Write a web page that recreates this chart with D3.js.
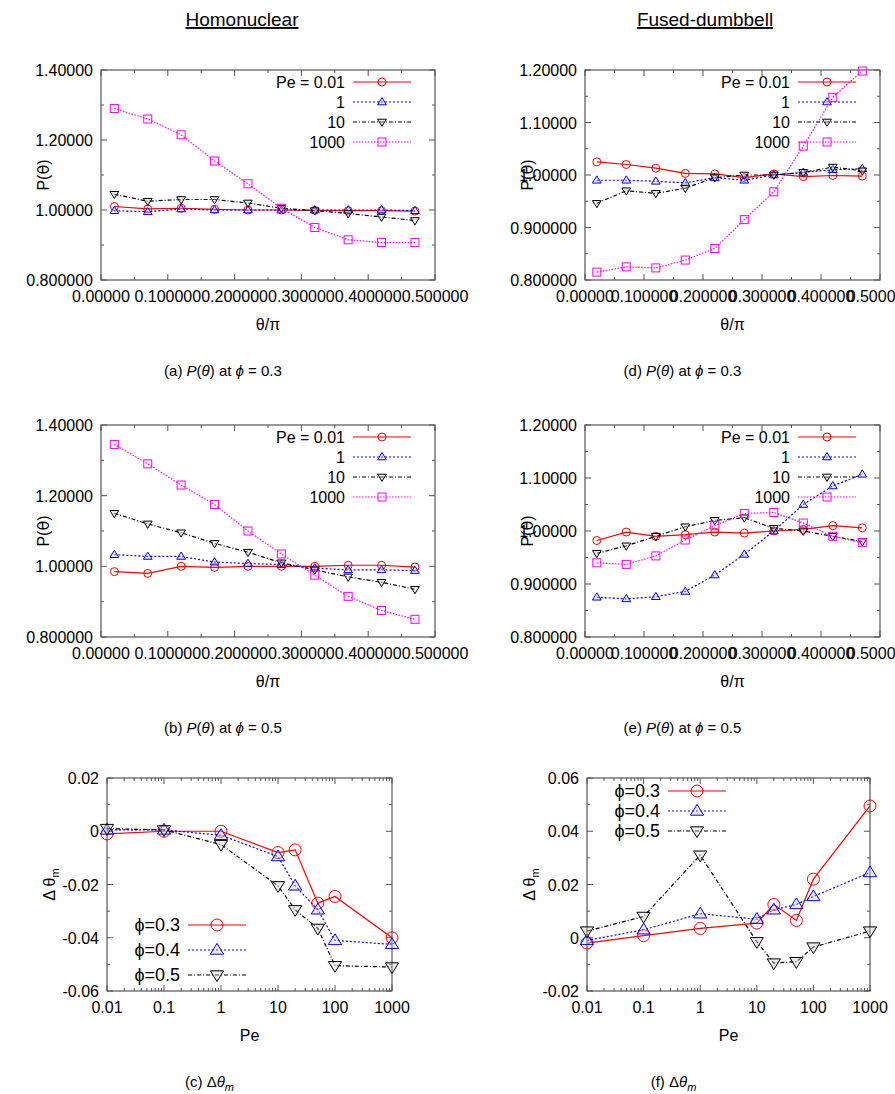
<!DOCTYPE html>
<html><head><meta charset="utf-8">
<script src="https://d3js.org/d3.v7.min.js"></script>
<style>body{margin:0;background:#fff}svg text{font-family:"Liberation Sans",Arial,sans-serif}</style>
</head><body><svg id="c" width="895" height="1094"></svg>
<script>
const theta=[0.02,0.07,0.12,0.17,0.22,0.27,0.32,0.37,0.42,0.47];
const peLabels=["Pe = 0.01","1","10","1000"];
const a_001=[1.01,1.003,1.005,1.002,1.0,1.0,0.999,0.998,0.998,0.997];
const a_1=[0.998,0.995,1.003,1.0,1.0,1.0,1.0,1.0,1.0,0.998];
const a_10=[1.045,1.025,1.03,1.03,1.02,1.005,0.998,0.99,0.98,0.97];
const a_1000=[1.29,1.26,1.215,1.14,1.075,1.005,0.95,0.915,0.907,0.907];
const b_001=[0.985,0.98,1.0,0.997,1.0,1.0,1.0,1.003,1.003,0.998];
const b_1=[1.033,1.028,1.028,1.012,1.008,1.005,0.995,0.99,0.99,0.988];
const b_10=[1.15,1.12,1.095,1.065,1.04,1.01,0.99,0.97,0.955,0.935];
const b_1000=[1.345,1.29,1.23,1.175,1.1,1.035,0.975,0.915,0.875,0.85];
const d_001=[1.025,1.02,1.013,1.003,1.002,0.995,1.002,0.997,0.999,0.998];
const d_1=[0.99,0.99,0.988,0.985,0.995,0.99,1.0,1.005,1.01,1.012];
const d_10=[0.946,0.97,0.965,0.975,0.995,1.0,1.0,1.005,1.015,1.008];
const d_1000=[0.815,0.825,0.823,0.838,0.86,0.915,0.968,1.055,1.148,1.198];
const e_001=[0.982,0.998,0.99,0.993,0.998,0.996,1.0,1.003,1.01,1.006];
const e_1=[0.875,0.872,0.876,0.886,0.917,0.956,1.0,1.05,1.085,1.107];
const e_10=[0.958,0.972,0.99,1.008,1.02,1.025,1.005,1.0,0.99,0.98];
const e_1000=[0.94,0.937,0.953,0.983,1.01,1.033,1.035,1.015,0.99,0.978];
const pe=[0.01,0.1,1,10,20,50,100,1000];
const phiLabels=["\u03d5=0.3","\u03d5=0.4","\u03d5=0.5"];
const c_03=[-0.001,0,0,-0.008,-0.007,-0.027,-0.0245,-0.04];
const c_04=[0.0005,0.0005,-0.0015,-0.0095,-0.0205,-0.0295,-0.041,-0.0425];
const c_05=[0.001,0.0005,-0.005,-0.0205,-0.0295,-0.0365,-0.0505,-0.051];
const f_03=[-0.002,0.0008,0.0035,0.0055,0.0125,0.0065,0.022,0.0495];
const f_04=[-0.001,0.003,0.009,0.007,0.0105,0.0125,0.0155,0.0245];
const f_05=[0.0025,0.008,0.031,-0.0015,-0.0095,-0.009,-0.0035,0.0025];

const svg=d3.select("#c");
const styles=[{c:"#ff0000",d:null,m:"circle"},{c:"#0000ff",d:"2,2",m:"up"},{c:"#000000",d:"4,2,1,2",m:"down"},{c:"#ff00ff",d:"1.5,1.5",m:"square"}];
function marker(g,type,x,y,col,s){
  if(type==="circle")g.append("circle").attr("cx",x).attr("cy",y).attr("r",s).attr("fill","none").attr("stroke",col).attr("stroke-width",1);
  else if(type==="square")g.append("rect").attr("x",x-s).attr("y",y-s).attr("width",2*s).attr("height",2*s).attr("fill","none").attr("stroke",col);
  else{const k=type==="up"?-1:1;g.append("path").attr("d",`M${x},${y+k*s*1.1}L${x-s*1.1},${y-k*s*0.7}L${x+s*1.1},${y-k*s*0.7}Z`).attr("fill","#ccc").attr("fill-opacity",0.4).attr("stroke",col);}
}
function panel(o){
  const g=svg.append("g");
  const x=o.log?d3.scaleLog().domain([0.01,1000]).range([o.x0,o.x1]):d3.scaleLinear().domain([0,0.5]).range([o.x0,o.x1]);
  const y=d3.scaleLinear().domain(o.yd).range([o.y1,o.y0]);
  g.append("rect").attr("x",o.x0).attr("y",o.y0).attr("width",o.x1-o.x0).attr("height",o.y1-o.y0).attr("fill","none").attr("stroke","#555").attr("stroke-width",1.2);
  const xt=o.log?[0.01,0.1,1,10,100,1000]:d3.range(0,0.51,0.1);
  const xm=o.log?d3.range(-2,3).flatMap(e=>d3.range(2,10).map(k=>k*Math.pow(10,e))):d3.range(0.05,0.5,0.1);
  xt.forEach(v=>{const px=x(v);g.append("line").attr("x1",px).attr("x2",px).attr("y1",o.y1).attr("y2",o.y1-6).attr("stroke","#555");g.append("line").attr("x1",px).attr("x2",px).attr("y1",o.y0).attr("y2",o.y0+6).attr("stroke","#555");
    g.append("text").attr("x",px).attr("y",o.y1+22).attr("text-anchor","middle").attr("font-size",16).text(o.log?(v<1?String(v):d3.format("d")(v)):d3.format("g")(+v.toFixed(1)));});
  xm.forEach(v=>{const px=x(v);[[o.y1,-3],[o.y0,3]].forEach(([yy,d])=>g.append("line").attr("x1",px).attr("x2",px).attr("y1",yy).attr("y2",yy+d).attr("stroke","#555"));});
  const [ya,yb,ys]=o.yt;
  for(let v=ya;v<=yb+1e-9;v+=ys){const py=y(v);[[o.x0,6],[o.x1,-6]].forEach(([xx,d])=>g.append("line").attr("x1",xx).attr("x2",xx+d).attr("y1",py).attr("y2",py).attr("stroke","#555"));
    g.append("text").attr("x",o.x0-8).attr("y",py+6).attr("text-anchor","end").attr("font-size",16).text(o.yfmt(v));}
  for(let v=ya+ys/2;v<yb;v+=ys){const py=y(v);[[o.x0,3],[o.x1,-3]].forEach(([xx,d])=>g.append("line").attr("x1",xx).attr("x2",xx+d).attr("y1",py).attr("y2",py).attr("stroke","#555"));}
  g.append("text").attr("x",(o.x0+o.x1)/2).attr("y",o.y1+50).attr("text-anchor","middle").attr("font-size",16).text(o.xl);
  g.append("text").attr("transform",`translate(${o.x0-52},${(o.y0+o.y1)/2}) rotate(-90)`).attr("text-anchor","middle").attr("font-size",16).html(o.yl);
  const xs=o.log?pe:theta;
  o.series.forEach((s,i)=>{const st=styles[i];
    g.append("path").datum(s).attr("d",d3.line().x((d,j)=>x(xs[j])).y(d=>y(d))).attr("fill","none").attr("stroke",st.c).attr("stroke-width",1.2).attr("stroke-dasharray",st.d);
    s.forEach((d,j)=>marker(g,st.m,x(xs[j]),y(d),st.c,o.ms));
    const ly=o.ly+i*o.lh;
    g.append("text").attr("x",o.lx).attr("y",ly+6).attr("text-anchor","end").attr("font-size",o.lfs).text(o.labels[i]);
    g.append("line").attr("x1",o.lx+8).attr("x2",o.lx+66).attr("y1",ly).attr("y2",ly).attr("stroke",st.c).attr("stroke-width",1.2).attr("stroke-dasharray",st.d);
    marker(g,st.m,o.lx+37,ly,st.c,o.ms);
  });
  g.append("text").attr("x",(o.x0+o.x1)/2+o.capdx).attr("y",o.capy).attr("text-anchor","middle").attr("font-size",15).attr("font-family","DejaVu Serif").html(o.cap);
}
const f1=v=>d3.format("g")(+v.toFixed(2));
const f2=v=>{const r=+v.toFixed(2);return r===0?"0":r.toFixed(2);};
const pl='P(<tspan font-family="DejaVu Sans">θ</tspan>)';
const topPanel=(x0,x1,y0,y1,yd,yt,series,cap,capdx)=>panel({x0,x1,y0,y1,yd,yt,yfmt:f1,series,labels:peLabels,xl:"θ/π",yl:pl,ms:4,lx:x1-90,ly:y0+12,lh:20,lfs:16,cap,capy:y1+96,capdx});
const capA=(l,p)=>`(${l})  <tspan font-style="italic">P</tspan>(<tspan font-style="italic">θ</tspan>) at <tspan font-style="italic">ϕ</tspan> = ${p}`;
topPanel(101,435,70,280,[0.8,1.4],[0.8,1.4,0.2],[a_001,a_1,a_10,a_1000],capA("a","0.3"),-45);
topPanel(101,435,425,637,[0.8,1.4],[0.8,1.4,0.2],[b_001,b_1,b_10,b_1000],capA("b","0.5"),-45);
topPanel(585,880,70,280,[0.8,1.2],[0.8,1.2,0.1],[d_001,d_1,d_10,d_1000],capA("d","0.3"),-50);
topPanel(585,880,425,637,[0.8,1.2],[0.8,1.2,0.1],[e_001,e_1,e_10,e_1000],capA("e","0.5"),-50);
const dl='Δ θ<tspan font-size="11" dy="4">m</tspan>';
const capC=l=>`(${l})  Δ<tspan font-style="italic">θ</tspan><tspan font-size="11" dy="4" font-style="italic">m</tspan>`;
panel({log:true,x0:107,x1:392,y0:778,y1:991,yd:[-0.06,0.02],yt:[-0.06,0.02,0.02],yfmt:f2,series:[c_03,c_04,c_05],labels:phiLabels,xl:"Pe",yl:dl,ms:6,lx:180,ly:925,lh:25,lfs:18,cap:capC("c"),capy:1087,capdx:-40});
panel({log:true,x0:587,x1:870,y0:778,y1:991,yd:[-0.02,0.06],yt:[-0.02,0.06,0.02],yfmt:f2,series:[f_03,f_04,f_05],labels:phiLabels,xl:"Pe",yl:dl,ms:6,lx:660,ly:791,lh:20,lfs:18,cap:capC("f"),capy:1087,capdx:-55});
[["Homonuclear",242],["Fused-dumbbell",705]].forEach(([t,x])=>{svg.append("text").attr("x",x).attr("y",26).attr("text-anchor","middle").attr("font-size",19).attr("font-family","DejaVu Serif").attr("text-decoration","underline").text(t);});
</script></body></html>
